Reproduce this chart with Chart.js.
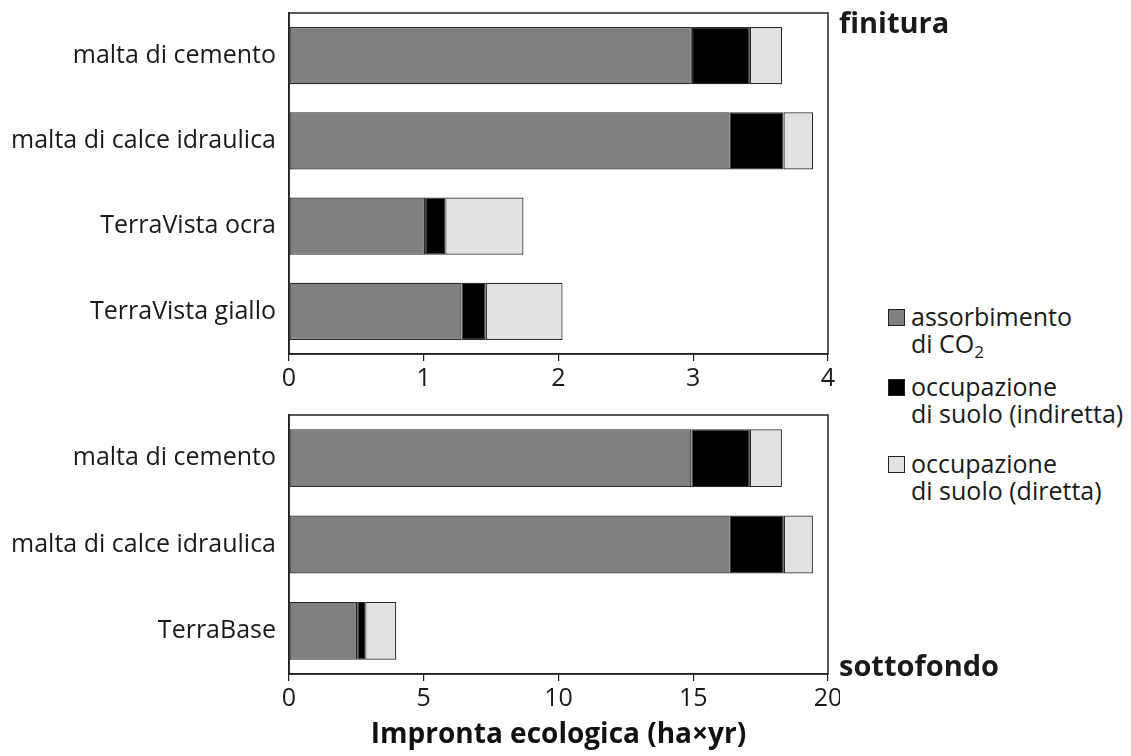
<!DOCTYPE html>
<html>
<head>
<meta charset="utf-8">
<script src="https://cdn.jsdelivr.net/npm/chart.js@4"></script>
<style>
  body { margin: 0; background: #fff; width: 1131px; height: 756px; position: relative; overflow: hidden; font-family: "Open Sans", sans-serif; color: #1a1a1a; }
  #top-wrap { position: absolute; left: 0; top: 0; width: 840px; height: 400px; }
  #bottom-wrap { position: absolute; left: 0; top: 400px; width: 840px; height: 356px; }
  .panel-title { position: absolute; left: 839px; font-weight: bold; font-size: 29px; line-height: 1; }
  .legend { position: absolute; left: 888px; font-size: 25px; line-height: 27px; }
  .legend .box { position: absolute; left: 0; top: 6px; width: 15px; height: 15px; border: 1px solid #222; }
  .legend .txt { position: absolute; left: 23px; top: 0; white-space: nowrap; }
  sub { font-size: 17px; vertical-align: -5px; line-height: 0; }
</style>
</head>
<body>
<div id="top-wrap"><canvas id="top-chart"></canvas></div>
<div id="bottom-wrap"><canvas id="bottom-chart"></canvas></div>
<div class="panel-title" style="top:7px">finitura</div>
<div class="panel-title" style="top:650px">sottofondo</div>

<div class="legend" style="top:303px"><div class="box" style="background:#7f8082"></div><div class="txt">assorbimento<br>di CO<sub>2</sub></div></div>
<div class="legend" style="top:373px"><div class="box" style="background:#000"></div><div class="txt">occupazione<br>di suolo (indiretta)</div></div>
<div class="legend" style="top:450px"><div class="box" style="background:#e1e2e4"></div><div class="txt">occupazione<br>di suolo (diretta)</div></div>

<script>
// finitura (top)
const topLabels = ['malta di cemento', 'malta di calce idraulica', 'TerraVista ocra', 'TerraVista giallo'];
const topCO2 = [2.99, 3.27, 1.01, 1.28];
const topIndiretta = [0.43, 0.40, 0.15, 0.18];
const topDiretta = [0.24, 0.22, 0.58, 0.57];
const topTicks = [0, 1, 2, 3, 4];

// sottofondo (bottom)
const bottomLabels = ['malta di cemento', 'malta di calce idraulica', 'TerraBase'];
const bottomCO2 = [14.93, 16.35, 2.53];
const bottomIndiretta = [2.17, 2.01, 0.30];
const bottomDiretta = [1.19, 1.08, 1.15];
const bottomTicks = [0, 5, 10, 15, 20];

const seriesNames = ['assorbimento di CO2', 'occupazione di suolo (indiretta)', 'occupazione di suolo (diretta)'];
const seriesColors = ['#7f8082', '#000000', '#e1e2e4'];

// draws the full frame round the plot area
const frame = {
  id: 'frame',
  afterDraw(chart) {
    const a = chart.chartArea, ctx = chart.ctx;
    ctx.save();
    ctx.strokeStyle = '#222';
    ctx.lineWidth = 1.5;
    ctx.strokeRect(a.left, a.top, a.right - a.left, a.bottom - a.top);
    ctx.restore();
  }
};

function makeChart(id, labels, values, ticks, opts) {
  return new Chart(document.getElementById(id), {
    type: 'bar',
    plugins: [frame],
    data: {
      labels: labels,
      datasets: values.map((v, i) => ({
        label: seriesNames[i],
        data: v,
        backgroundColor: seriesColors[i],
        borderColor: '#2a2a2a',
        borderWidth: 1.2,
        borderSkipped: false,
        categoryPercentage: 1,
        barPercentage: 0.67
      }))
    },
    options: {
      indexAxis: 'y',
      animation: false,
      responsive: true,
      maintainAspectRatio: false,
      layout: { padding: { top: opts.padTop, right: 12, left: 0, bottom: 0 } },
      plugins: { legend: { display: false }, tooltip: { enabled: false } },
      scales: {
        x: {
          stacked: true,
          min: ticks[0],
          max: ticks[ticks.length - 1],
          afterBuildTicks: s => { s.ticks = ticks.map(v => ({ value: v })); },
          afterFit: s => { s.height = opts.xHeight; s.paddingLeft = 0; s.paddingRight = 0; },
          grid: { display: true, drawOnChartArea: false, drawTicks: true, tickLength: 7, tickColor: '#222', lineWidth: 1.2 },
          border: { display: true, color: '#222', width: 1.5 },
          ticks: { color: '#1a1a1a', font: { family: 'Open Sans', size: 25 }, padding: 3, maxRotation: 0 },
          title: opts.title ? {
            display: true,
            text: opts.title,
            color: '#111',
            font: { family: 'Open Sans', size: 28, weight: 'bold' },
            padding: { top: 0, bottom: 4 }
          } : { display: false }
        },
        y: {
          stacked: true,
          afterFit: s => { s.width = 289; s.paddingTop = 0; s.paddingBottom = 0; },
          grid: { display: false, drawTicks: false },
          border: { display: true, color: '#222', width: 1.5 },
          ticks: { color: '#1a1a1a', font: { family: 'Open Sans', size: 25 }, padding: 13 }
        }
      }
    }
  });
}

makeChart('top-chart', topLabels, [topCO2, topIndiretta, topDiretta], topTicks, { padTop: 13, xHeight: 46 });
makeChart('bottom-chart', bottomLabels, [bottomCO2, bottomIndiretta, bottomDiretta], bottomTicks, { padTop: 15, xHeight: 82, title: 'Impronta ecologica (ha×yr)' });
</script>
</body>
</html>
